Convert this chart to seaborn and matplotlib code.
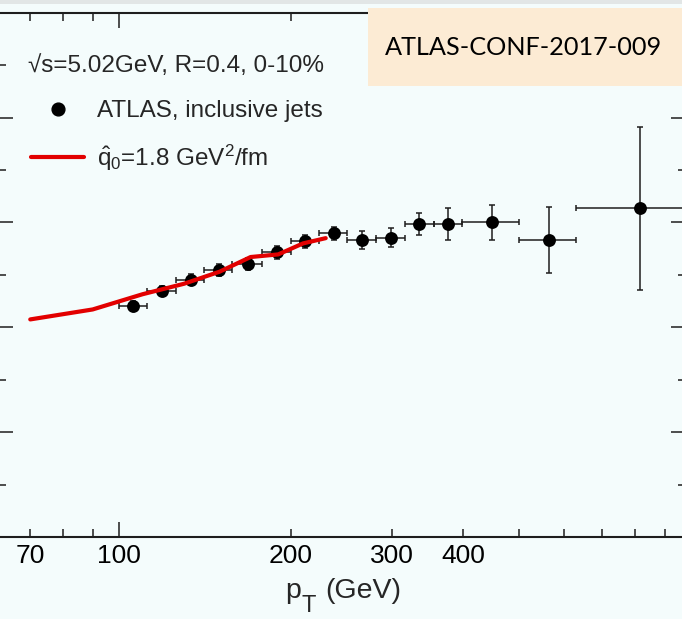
import numpy as np
import pandas as pd
import matplotlib
matplotlib.use("Agg")
import matplotlib.pyplot as plt
from matplotlib.lines import Line2D
from matplotlib.patches import Rectangle
from matplotlib.ticker import FixedLocator, FixedFormatter, MultipleLocator
import seaborn as sns

# ATLAS inclusive-jet R_AA, sqrt(s)=5.02 TeV, R=0.4, 0-10% centrality
pt_lo = [100, 112, 126, 141, 158, 178, 200, 224, 251, 282, 316, 355, 398, 501, 631]
pt_hi = [112, 126, 141, 158, 178, 200, 224, 251, 282, 316, 355, 398, 501, 631, 1000]
pt = [106, 119, 133.5, 149.5, 168, 189, 212, 237.5, 266.5, 299, 335.5, 376.5, 449.5, 566, 815.5]
raa = [0.441, 0.469, 0.491, 0.509, 0.521, 0.543, 0.564, 0.579,
       0.567, 0.571, 0.597, 0.597, 0.600, 0.566, 0.627]
raa_err = [0.010, 0.010, 0.011, 0.011, 0.011, 0.012, 0.012, 0.012,
           0.017, 0.0185, 0.0215, 0.0305, 0.033, 0.0626, 0.155]

# Model curve for qhat_0 = 1.8 GeV^2/fm
model_pt = [70, 90, 110, 130, 150, 170, 190, 210, 230]
model_raa = [0.415, 0.434, 0.463, 0.483, 0.506, 0.534, 0.539, 0.560, 0.570]

# Axis ticks and labels
x_major = [100, 1000]
x_minor = [70, 80, 90, 200, 300, 400, 500, 600, 700, 800, 900]
x_minor_labels = ["70", "", "", "200", "300", "400", "", "", "", "", ""]

sns.set_theme(style="ticks")
plt.rcParams["font.family"] = ["Liberation Sans", "DejaVu Sans"]
plt.rcParams["mathtext.fontset"] = "custom"
plt.rcParams["mathtext.rm"] = "Liberation Sans"
plt.rcParams["mathtext.it"] = "Liberation Sans"
plt.rcParams["mathtext.bf"] = "Liberation Sans:bold"

bg = "#f4fcfc"
ink = "#1e1e1e"
red = "#e20000"
W, H = 682, 619

fig = plt.figure(figsize=(W / 100, H / 100), dpi=100, facecolor=bg)
ax = fig.add_axes([-1.5 / W, 82 / H, 687.2 / W, 524.3 / H])
ax.set_facecolor(bg)
ax.set_xscale("log")

df = pd.DataFrame({"pt": pt, "raa": raa, "err": raa_err, "lo": pt_lo, "hi": pt_hi})
model = pd.DataFrame({"pt": model_pt, "raa": model_raa})

xerr = np.vstack([df["pt"] - df["lo"], df["hi"] - df["pt"]])
ax.errorbar(df["pt"], df["raa"], xerr=xerr, yerr=df["err"], fmt="none",
            ecolor=ink, elinewidth=1.1, capsize=2.3, capthick=1.1, zorder=2)
sns.scatterplot(data=df, x="pt", y="raa", color="black", s=86, linewidth=0,
                ax=ax, zorder=3, legend=False)
sns.lineplot(data=model, x="pt", y="raa", color=red, linewidth=3.0,
             ax=ax, zorder=4, legend=False)

ax.set_xlim(61.6, 980)
ax.set_ylim(0, 1.0)
ax.set_xlabel("")
ax.set_ylabel("")

ax.xaxis.set_major_locator(FixedLocator(x_major))
ax.xaxis.set_major_formatter(FixedFormatter(["100", "1000"]))
ax.xaxis.set_minor_locator(FixedLocator(x_minor))
ax.xaxis.set_minor_formatter(FixedFormatter(x_minor_labels))
ax.yaxis.set_major_locator(MultipleLocator(0.2))
ax.yaxis.set_minor_locator(MultipleLocator(0.1))

ax.tick_params(which="both", direction="in", top=True, right=True,
               labelleft=False, labelright=False, labeltop=False,
               color=ink, width=1.1, labelsize=19, pad=5, labelcolor="black")
ax.tick_params(which="major", length=10.8)
ax.tick_params(which="minor", length=5.8)

for s in ax.spines.values():
    s.set_color(ink)
    s.set_linewidth(1.5)

# x-axis title: p with a lowered, near full-size T subscript
fig.text(285 / W, (H - 598) / H, "p", fontsize=20.5, ha="left", va="baseline")
fig.text(302 / W, (H - 612) / H, "T", fontsize=17, ha="left", va="baseline")
fig.text(325 / W, (H - 598) / H, "(GeV)", fontsize=20.5, ha="left", va="baseline")

# Legend header and entries
ax.text(29.5 / 687.2, (537 - 72) / 524.3, "√s=5.02GeV, R=0.4, 0-10%",
        transform=ax.transAxes, fontsize=17.5, ha="left", va="baseline")
handles = [Line2D([], [], marker="o", color="black", ls="none", ms=9.2),
           Line2D([], [], color=red, lw=3.0)]
labels = ["ATLAS, inclusive jets", r"$\hat{q}_0$=1.8 GeV$^2$/fm"]
ax.legend(handles, labels, loc="upper left",
          bbox_to_anchor=(32.5 / 687.2, (537 - 100) / 524.3),
          frameon=False, fontsize=17.5, borderpad=0, borderaxespad=0,
          handlelength=2.2, handletextpad=0.5, labelspacing=0.85)

# Reference tag box in the upper right
fig.add_artist(Rectangle((368 / W, (H - 86) / H), 1 - 368 / W, 78 / H,
                         transform=fig.transFigure, facecolor="#fcebd4",
                         edgecolor="none", zorder=5))
fig.text(523.5 / W, (H - 47.8) / H, "ATLAS-CONF-2017-009",
         family=["Lato", "DejaVu Sans"], fontsize=18.2, color="black",
         ha="center", va="center", zorder=6)

# thin grey strip along the top edge
fig.add_artist(Rectangle((0, (H - 4) / H), 1, 4 / H, transform=fig.transFigure,
                         facecolor="#e2e6e6", edgecolor="none", zorder=5))

fig.savefig("out.png", dpi=100, facecolor=bg)
